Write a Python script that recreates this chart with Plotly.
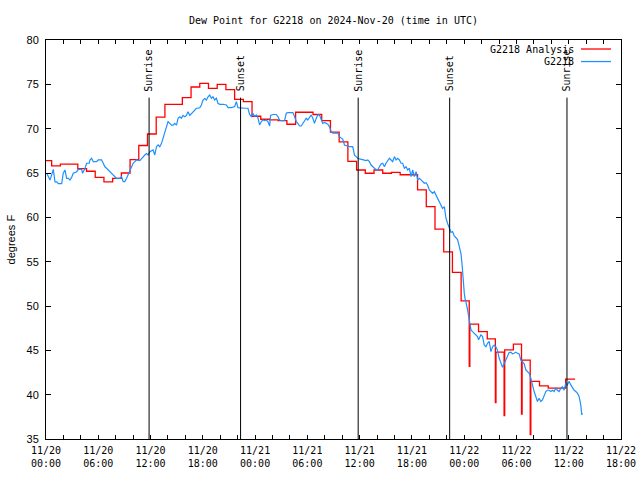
import pandas as pd
import plotly.graph_objects as go

START = pd.Timestamp("2024-11-20 00:00")
X_END = "2024-11-22 18:00"

# Analysis (hourly step series), hours after 2024-11-20 00:00 UTC -> dew point (F)
analysis_hours = [-0.35, 0.65, 1.65, 2.65, 3.65, 4.65, 5.65, 6.65, 7.65, 8.65, 9.65, 10.65,
                  11.65, 12.65, 13.65, 14.65, 15.65, 16.65, 17.65, 18.65, 19.65, 20.65, 21.65,
                  22.65, 23.65, 24.65, 25.65, 26.65, 27.65, 28.65, 29.65, 30.65, 31.65, 32.65,
                  33.65, 34.65, 35.65, 36.65, 37.65, 38.65, 39.65, 40.65, 41.65, 42.65, 43.65,
                  44.65, 45.65, 46.65, 47.65, 48.58, 48.65, 49.65, 50.65, 51.58, 51.65, 52.58,
                  52.65, 53.65, 54.58, 54.65, 55.58, 55.65, 56.65, 57.65, 58.65, 59.65, 60.73]
analysis_dewpt = [66.4, 65.8, 66.0, 66.0, 65.5, 65.2, 64.5, 64.0, 64.4, 65.0, 66.5, 68.1,
                  69.4, 71.3, 72.75, 72.75, 73.5, 74.7, 75.1, 74.55, 75.0, 74.4, 73.3,
                  73.05, 71.4, 71.06, 71.0, 70.9, 70.5, 71.85, 71.85, 71.6, 70.9, 69.6,
                  68.5, 66.3, 65.34, 64.97, 65.34, 64.97, 65.08, 64.8, 64.8, 63.1, 61.2,
                  58.66, 56.1, 53.8, 50.57, 43.2, 47.95, 47.1, 46.3, 39.1, 44.8, 37.65,
                  45.05, 45.7, 37.8, 43.9, 35.5, 41.5, 41.0, 40.73, 40.73, 41.75, 41.75]

# Observations (G2218)
obs_hours = [0.08, 0.26, 0.46, 0.84, 1.03, 1.23, 1.41, 1.80, 1.98, 2.18, 2.37, 2.56, 2.75, 2.94,
             3.13, 3.52, 3.70, 3.90, 4.09, 4.20, 4.47, 4.66, 4.96, 5.04, 5.24, 5.42, 5.81, 5.99,
             6.38, 6.57, 6.76, 6.95, 7.14, 7.33, 7.53, 7.71, 7.91, 8.10, 8.48, 8.67, 8.86, 9.05,
             9.25, 9.43, 9.62, 9.82, 10.00, 10.20, 10.39, 10.77, 10.97, 11.15, 11.34, 11.54,
             11.72, 11.92, 12.29, 12.49, 12.68, 12.87, 13.06, 13.26, 13.44, 13.64, 13.83, 14.01,
             14.21, 14.40, 14.59, 14.78, 14.98, 15.16, 15.35, 15.55, 15.73, 15.93, 16.12, 16.30,
             16.50, 16.69, 16.88, 17.07, 17.27, 17.45, 17.65, 17.84, 18.02, 18.22, 18.41, 18.60,
             18.79, 18.99, 19.17, 19.36, 19.56, 19.74, 19.94, 20.32, 20.70, 20.89, 21.28, 21.66,
             21.85, 22.03, 22.42, 22.80, 23.18, 23.37, 23.57, 23.75, 23.95, 24.14, 24.33, 24.52,
             24.72, 24.90, 25.09, 25.29, 25.47, 25.67, 25.78, 26.04, 26.43, 26.62, 26.81, 27.01,
             27.38, 27.58, 27.76, 28.34, 28.53, 28.73, 28.91, 29.10, 29.30, 29.48, 29.68, 29.87,
             30.05, 30.25, 30.44, 30.63, 30.82, 31.02, 31.20, 31.39, 31.59, 31.77, 31.97, 32.35,
             32.54, 32.74, 32.92, 33.49, 33.69, 34.07, 34.26, 34.83, 35.21, 35.41, 35.60, 35.78,
             35.98, 36.36, 36.75, 36.93, 37.12, 37.32, 37.50, 37.70, 37.89, 38.07, 38.27, 38.46,
             38.65, 38.84, 39.03, 39.22, 39.42, 39.61, 39.79, 39.99, 40.18, 40.37, 40.56, 40.76,
             40.94, 41.13, 41.33, 41.51, 41.71, 41.90, 42.09, 42.28, 42.48, 42.66, 42.85, 43.05,
             43.23, 43.43, 43.62, 43.80, 44.00, 44.19, 44.38, 44.57, 44.77, 44.95, 45.14, 45.34,
             45.52, 45.72, 45.91, 46.10, 46.29, 46.49, 46.67, 46.86, 47.06, 47.24, 47.44, 47.63,
             47.75, 47.81, 47.89, 48.01, 48.12, 48.20, 48.39, 48.50, 48.66, 48.78, 48.96, 49.16,
             49.35, 49.53, 49.65, 49.73, 49.92, 50.11, 50.30, 50.50, 50.68, 50.87, 51.07, 51.25,
             51.45, 51.64, 51.82, 52.02, 52.21, 52.40, 52.59, 52.79, 52.97, 53.16, 53.36, 53.54,
             53.74, 53.93, 54.12, 54.31, 54.51, 54.69, 54.88, 55.08, 55.26, 55.46, 55.65, 55.84,
             56.03, 56.22, 56.41, 56.60, 56.80, 56.98, 57.18, 57.37, 57.55, 57.75, 57.94, 58.13,
             58.32, 58.52, 58.70, 58.90, 59.09, 59.27, 59.47, 59.66, 59.85, 60.04, 60.24, 60.42,
             60.62, 60.81, 61.00, 61.19, 61.38, 61.50, 61.56]
obs_dewpt = [64.97, 64.6, 64.2, 65.4, 64.0, 64.0, 63.8, 63.8, 64.97, 65.34, 64.4, 64.4, 64.2, 64.5,
             64.97, 65.15, 65.4, 65.4, 65.4, 64.97, 65.5, 66.1, 66.1, 66.47, 66.66, 66.28, 66.28, 66.47,
             66.47, 66.1, 65.7, 65.53, 65.34, 65.15, 64.97, 64.78, 64.6, 64.4, 64.4, 64.6, 64.03, 64.03,
             64.4, 64.78, 65.34, 65.7, 66.1, 66.28, 66.47, 66.4, 66.66, 66.85, 67.03, 67.2,
             67.03, 67.4, 67.6, 67.03, 67.97, 68.16, 67.97, 68.35, 68.9, 69.5, 70.05, 70.8,
             70.6, 70.4, 70.4, 70.6, 70.4, 71.17, 71.35, 71.17, 71.5, 71.35, 71.5, 71.9,
             71.5, 71.7, 71.9, 72.1, 72.3, 72.3, 72.35, 72.67, 73.23, 73.4, 73.23, 73.6,
             73.8, 73.43, 73.6, 73.23, 73.43, 72.86, 72.75, 72.75, 72.67, 72.37, 72.37, 72.5,
             73.05, 72.37, 72.3, 72.3, 72.3, 71.6, 71.36, 71.74, 71.36, 71.55, 71.2, 70.42,
             70.8, 70.98, 70.9, 70.98, 70.8, 70.3, 71.5, 71.6, 71.6, 71.36, 70.98, 70.9,
             70.9, 71.74, 71.8, 71.8, 71.36, 70.8, 70.6, 70.3, 70.3, 70.6, 70.9, 71.17,
             70.98, 71.26, 71.55, 71.17, 70.6, 71.17, 71.55, 71.55, 70.98, 70.6, 70.7, 70.5,
             70.2, 69.66, 69.5, 69.5, 69.1, 68.8, 68.16, 67.97, 67.97, 67.0, 66.85, 66.66,
             66.6, 66.47, 66.4, 66.47, 66.28, 65.9, 65.7, 65.53, 65.4, 65.34, 65.7, 66.02,
             66.1, 65.7, 66.1, 66.4, 66.66, 66.47, 66.28, 66.85, 66.47, 66.66, 66.47, 66.1,
             66.1, 65.53, 65.7, 65.34, 65.53, 64.6, 65.34, 64.6, 65.15, 64.22, 64.4, 64.22,
             64.03, 63.84, 63.9, 63.65, 63.1, 62.9, 62.7, 62.9, 62.5, 61.96, 61.6, 61.2,
             61.0, 61.2, 59.9, 59.3, 58.9, 58.3, 58.4, 57.9, 57.7, 57.5, 56.7, 55.9,
             54.8, 53.7, 52.6, 51.45, 50.7, 50.5, 49.56, 48.8, 47.87, 47.3, 47.1, 46.93,
             46.75, 46.55, 46.18, 46.37, 46.75, 46.55, 45.6, 45.4, 45.8, 46.0, 44.86, 45.4,
             45.6, 45.4, 45.0, 44.1, 43.5, 43.1, 43.5, 44.0, 44.5, 44.75, 44.8, 44.6,
             44.67, 44.8, 44.67, 44.6, 43.9, 43.7, 43.5, 42.8, 42.6, 42.4, 41.86, 41.0,
             40.35, 39.8, 39.23, 39.6, 39.23, 39.4, 39.9, 40.35, 40.5, 40.5, 40.35, 40.5,
             40.35, 40.73, 40.5, 40.35, 40.73, 40.9, 40.5, 41.3, 41.1, 41.5, 41.1, 40.73,
             40.5, 40.35, 40.17, 39.8, 38.85, 37.72, 37.9]

# Sunrise / sunset markers
event_times = ["2024-11-20 11:50", "2024-11-20 22:20", "2024-11-21 11:50",
               "2024-11-21 22:20", "2024-11-22 11:48"]
event_labels = ["Sunrise", "Sunset", "Sunrise", "Sunset", "Sunrise"]
EVENT_TOP = 73.5

series_names = ["G2218 Analysis", "G2218"]
series_colors = ["#ff0000", "#1e90ff"]

MONO = "DejaVu Sans Mono"
SANS = "Liberation Sans"


def to_time(hours):
    return [START + pd.Timedelta(hours=h) for h in hours]


fig = go.Figure()
fig.add_trace(go.Scatter(x=to_time(analysis_hours), y=analysis_dewpt, mode="lines",
                         line=dict(color=series_colors[0], width=1.3, shape="hv"),
                         name=series_names[0]))
fig.add_trace(go.Scatter(x=to_time(obs_hours), y=obs_dewpt, mode="lines",
                         line=dict(color=series_colors[1], width=1.2),
                         name=series_names[1]))

shapes = []
annotations = []
for t, lab in zip(event_times, event_labels):
    shapes.append(dict(type="line", xref="x", yref="y", x0=t, x1=t, y0=35, y1=EVENT_TOP,
                       line=dict(color="black", width=1)))
    annotations.append(dict(x=t, y=EVENT_TOP, xref="x", yref="y", text=lab, textangle=-90,
                            showarrow=False, xanchor="center", yanchor="bottom", yshift=4,
                            font=dict(family=MONO, size=10, color="black")))

# legend drawn gnuplot-style (text left, sample right)
leg_y = [0.9774, 0.946]
for name, col, ly in zip(series_names, series_colors, leg_y):
    annotations.append(dict(x=0.922, y=ly, xref="paper", yref="paper", text=name,
                            showarrow=False, xanchor="right", yanchor="middle",
                            font=dict(family=MONO, size=10, color="black")))
    shapes.append(dict(type="line", xref="paper", yref="paper", x0=0.9304, x1=0.9826,
                       y0=ly, y1=ly, line=dict(color=col, width=1.3)))

annotations.append(dict(x=-0.061, y=0.5, xref="paper", yref="paper", text="degrees F",
                        textangle=-90, showarrow=False, xanchor="center", yanchor="middle",
                        font=dict(family=SANS, size=11, color="black")))

fig.update_layout(
    width=640, height=480, autosize=False,
    margin=dict(l=46, r=19, t=40, b=41, autoexpand=False),
    paper_bgcolor="white", plot_bgcolor="white",
    showlegend=False,
    title=dict(text="Dew Point for G2218 on 2024-Nov-20 (time in UTC)", x=0.5, xref="paper",
               xanchor="center", y=1 - 20 / 480, yref="container", yanchor="middle",
               font=dict(family=MONO, size=10, color="black")),
    xaxis=dict(type="date", range=[START, X_END], tick0=START, dtick=6 * 3600 * 1000,
               tickformat="%m/%d<br>%H:%M", ticks="inside", ticklen=4, tickcolor="black",
               mirror="allticks", showline=True, linecolor="black", linewidth=1,
               showgrid=False, zeroline=False, ticklabelstandoff=2, automargin=False,
               tickfont=dict(family=MONO, size=10, color="black"),
               minor=dict(dtick=2 * 3600 * 1000, ticks="inside", ticklen=4,
                          tickcolor="black", showgrid=False)),
    yaxis=dict(range=[35, 80], dtick=5, ticks="inside", ticklen=5, tickcolor="black",
               mirror="allticks", showline=True, linecolor="black", linewidth=1,
               showgrid=False, zeroline=False, ticklabelstandoff=4, automargin=False,
               tickfont=dict(family=SANS, size=11, color="black")),
    shapes=shapes,
    annotations=annotations,
)

fig.write_html("out.html",
               config={"displayModeBar": False, "responsive": False},
               post_script="document.body.style.margin='0px';document.body.style.padding='0px';")
